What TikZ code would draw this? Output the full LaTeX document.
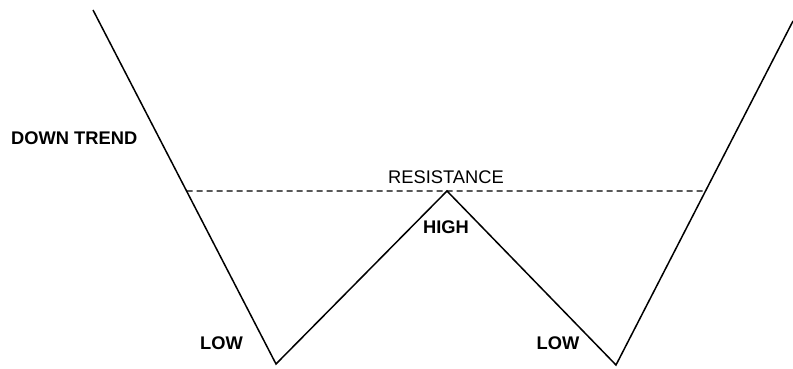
\documentclass[tikz,border=0pt]{standalone}
\usepackage{fontspec}
\setmainfont{Liberation Sans}
\usetikzlibrary{positioning,calc}

\begin{document}
\begin{tikzpicture}[x=1pt, y=-1pt, font=\fontsize{18.3}{21}\selectfont,
  lbl/.style={inner sep=0pt, font=\fontsize{18.3}{21}\selectfont\bfseries}]
  \useasboundingbox (0,0) rectangle (793,369);
  % price path
  \coordinate (start) at (93,10);
  \coordinate (low1) at (276,364);
  \coordinate (high) at (447,191);
  \coordinate (low2) at (616,365);
  \coordinate (end) at (793,21);
  \draw[line width=1.5pt, line join=miter] (start) -- (low1) -- (high) -- (low2) -- (end);
  % resistance level through the high
  \coordinate (resL) at ($(start)!0.5113!(low1)$);
  \coordinate (resR) at ($(low2)!0.5058!(end)$);
  \draw[line width=1.3pt, dash pattern=on 6pt off 4pt] (resL) -- (resR);
  % labels
  \node[lbl, anchor=base west] (trend) at (11,144) {DOWN TREND};
  \node[inner sep=0pt, anchor=base] (res) at (446,183) {RESISTANCE};
  \node[lbl, anchor=base] (hi) at (446,233) {HIGH};
  \node[lbl, anchor=base] (lowA) at (221.5,349) {LOW};
  \node[lbl, anchor=base] (lowB) at (558,349) {LOW};
\end{tikzpicture}
\end{document}
